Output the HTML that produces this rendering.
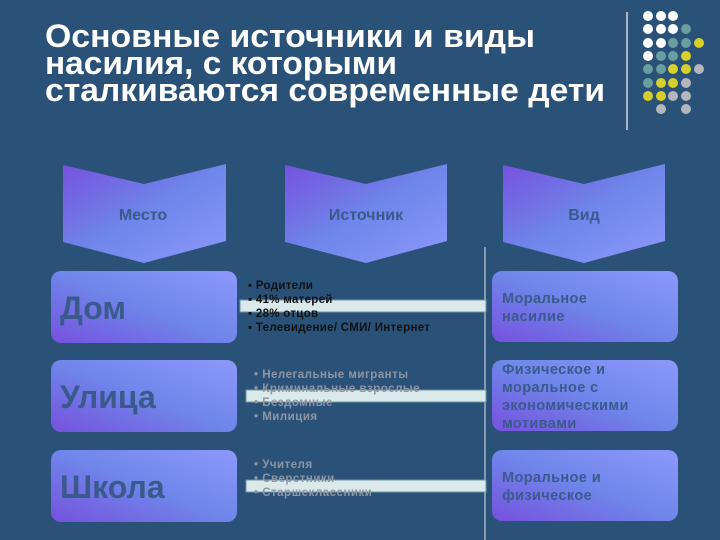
<!DOCTYPE html>
<html><head><meta charset="utf-8"><style>
html,body{margin:0;padding:0;background:#2a5279;}
svg{display:block}
text{font-family:"Liberation Sans","DejaVu Sans",sans-serif;font-weight:bold}
</style></head><body>
<svg width="720" height="540" viewBox="0 0 720 540" xmlns="http://www.w3.org/2000/svg">
<defs>
<linearGradient id="g" x1="0" y1="1" x2="1" y2="0">
<stop offset="0" stop-color="#7651de"/><stop offset="0.5" stop-color="#6f86ea"/><stop offset="1" stop-color="#8e98fb"/>
</linearGradient>
<linearGradient id="c" x1="0" y1="0" x2="1" y2="1">
<stop offset="0" stop-color="#7651de"/><stop offset="0.5" stop-color="#6f86ea"/><stop offset="1" stop-color="#8e98fb"/>
</linearGradient>
</defs>
<rect width="720" height="540" fill="#2a5279"/>
<g fill="#fff" font-size="32">
<text x="45" y="47" textLength="490" lengthAdjust="spacingAndGlyphs">Основные источники и виды</text>
<text x="45" y="74" textLength="352" lengthAdjust="spacingAndGlyphs">насилия, с которыми</text>
<text x="45" y="101" textLength="560" lengthAdjust="spacingAndGlyphs">сталкиваются современные дети</text>
</g>
<line x1="627" y1="12" x2="627" y2="130" stroke="#a9b6c4" stroke-width="2"/>
<g>
<circle cx="648" cy="16" r="5" fill="#fff"/><circle cx="661" cy="16" r="5" fill="#fff"/><circle cx="673" cy="16" r="5" fill="#fff"/>
<circle cx="648" cy="29" r="5" fill="#fff"/><circle cx="661" cy="29" r="5" fill="#fff"/><circle cx="673" cy="29" r="5" fill="#fff"/><circle cx="686" cy="29" r="5" fill="#6a9ea0"/>
<circle cx="648" cy="43" r="5" fill="#fff"/><circle cx="661" cy="43" r="5" fill="#fff"/><circle cx="673" cy="43" r="5" fill="#6a9ea0"/><circle cx="686" cy="43" r="5" fill="#6a9ea0"/><circle cx="699" cy="43" r="5" fill="#d8d02a"/>
<circle cx="648" cy="56" r="5" fill="#fff"/><circle cx="661" cy="56" r="5" fill="#6a9ea0"/><circle cx="673" cy="56" r="5" fill="#6a9ea0"/><circle cx="686" cy="56" r="5" fill="#d8d02a"/>
<circle cx="648" cy="69" r="5" fill="#6a9ea0"/><circle cx="661" cy="69" r="5" fill="#6a9ea0"/><circle cx="673" cy="69" r="5" fill="#d8d02a"/><circle cx="686" cy="69" r="5" fill="#d8d02a"/><circle cx="699" cy="69" r="5" fill="#b4b6bc"/>
<circle cx="648" cy="83" r="5" fill="#6a9ea0"/><circle cx="661" cy="83" r="5" fill="#d8d02a"/><circle cx="673" cy="83" r="5" fill="#d8d02a"/><circle cx="686" cy="83" r="5" fill="#b4b6bc"/>
<circle cx="648" cy="96" r="5" fill="#d8d02a"/><circle cx="661" cy="96" r="5" fill="#d8d02a"/><circle cx="673" cy="96" r="5" fill="#b4b6bc"/><circle cx="686" cy="96" r="5" fill="#b4b6bc"/>
<circle cx="661" cy="109" r="5" fill="#b4b6bc"/><circle cx="686" cy="109" r="5" fill="#b4b6bc"/>
</g>
<g fill="url(#c)">
<polygon points="63,165 144,184 226,164 226,241 144,263 63,242"/>
<polygon points="285,165 366,184 447,164 447,241 366,263 285,242"/>
<polygon points="503,165 584,184 665,164 665,241 584,263 503,242"/>
</g>
<g fill="#3a5a8c" font-size="16" text-anchor="middle">
<text x="143" y="220">Место</text>
<text x="366" y="220">Источник</text>
<text x="584" y="220">Вид</text>
</g>
<line x1="485" y1="247" x2="485" y2="540" stroke="#9fb3c2" stroke-width="1.5"/>
<g fill="#dce9ea" stroke="#6f98a8" stroke-width="1">
<rect x="240" y="300" width="246" height="12"/>
<rect x="246" y="390" width="240" height="12"/>
<rect x="246" y="480" width="240" height="12"/>
</g>
<g fill="url(#g)">
<rect x="51" y="271" width="186" height="72" rx="10"/>
<rect x="51" y="360" width="186" height="72" rx="10"/>
<rect x="51" y="450" width="186" height="72" rx="10"/>
<rect x="492" y="271" width="186" height="71" rx="10"/>
<rect x="492" y="360" width="186" height="71" rx="10"/>
<rect x="492" y="450" width="186" height="71" rx="10"/>
</g>
<g fill="#3a5a8c" font-size="32">
<text x="60" y="319">Дом</text>
<text x="60" y="408">Улица</text>
<text x="60" y="498">Школа</text>
</g>
<g fill="#3a5a8c" font-size="14.5" letter-spacing="0.4">
<text x="502" y="303">Моральное</text>
<text x="502" y="321">насилие</text>
<text x="502" y="374">Физическое и</text>
<text x="502" y="392">моральное с</text>
<text x="502" y="410">экономическими</text>
<text x="502" y="428">мотивами</text>
<text x="502" y="482">Моральное и</text>
<text x="502" y="500">физическое</text>
</g>
<g fill="#111" font-size="11.5" letter-spacing="0.3">
<text x="248" y="289">▪ Родители</text>
<text x="248" y="303">▪ 41% матерей</text>
<text x="248" y="317">▪ 28% отцов</text>
<text x="248" y="331">▪ Телевидение/ СМИ/ Интернет</text>
</g>
<g fill="#8e96a4" font-size="11.5" letter-spacing="0.5">
<text x="254" y="378">• Нелегальные мигранты</text>
<text x="254" y="392">• Криминальные взрослые</text>
<text x="254" y="406">• Бездомные</text>
<text x="254" y="420">• Милиция</text>
<text x="254" y="468">• Учителя</text>
<text x="254" y="482">• Сверстники</text>
<text x="254" y="496">• Старшеклассники</text>
</g>
</svg>
</body></html>
